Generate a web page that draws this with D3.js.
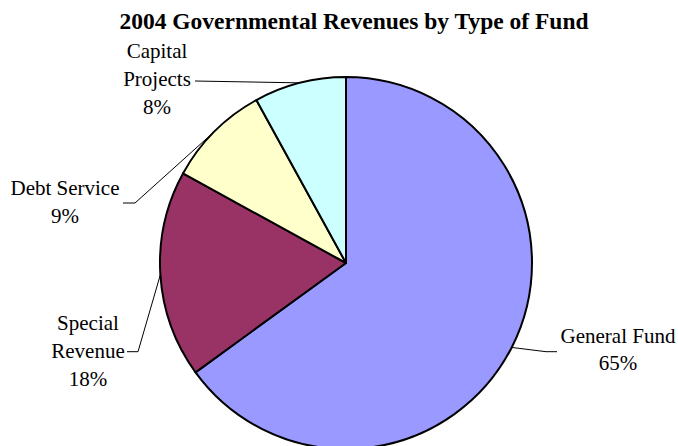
<!DOCTYPE html>
<html>
<head>
<meta charset="utf-8">
<script src="https://cdn.jsdelivr.net/npm/d3@7"></script>
<style>
  html, body { margin: 0; padding: 0; background: #fff; }
  svg { display: block; }
  text { font-family: "Liberation Serif", "Times New Roman", serif; fill: #000; }
</style>
</head>
<body>
<svg id="chart" width="678" height="446"></svg>
<script>
// Fund categories and their share of 2004 governmental revenues (%)
const categories = ["General Fund", "Special Revenue", "Debt Service", "Capital Projects"];
const shares = [65, 18, 9, 8];
const sliceColors = ["#9999FF", "#993366", "#FFFFCC", "#CCFFFF"];
const chartTitle = "2004 Governmental Revenues by Type of Fund";

// Label placement: wrapped name lines, text centre x, first baseline,
// and where the leader line leaves the label block.
const labelLayout = {
  "General Fund":     { lines: ["General Fund"],        x: 618, y: 342.5, lead: [557, 351.7], elbow: [546, 351.7] },
  "Special Revenue":  { lines: ["Special", "Revenue"],  x: 88,  y: 330,   lead: [127, 351.7], elbow: [138, 351.7] },
  "Debt Service":     { lines: ["Debt Service"],        x: 65,  y: 195,   lead: [123, 203],   elbow: [135, 203] },
  "Capital Projects": { lines: ["Capital", "Projects"], x: 157, y: 58,    lead: [195, 81],    elbow: [205, 81.2] }
};

const svg = d3.select("#chart");
const cx = 346, cy = 263, r = 186;
const lineH = 27.8;

svg.append("text")
  .attr("x", 354).attr("y", 28.5)
  .attr("text-anchor", "middle")
  .attr("font-size", "23.5px")
  .attr("font-weight", "bold")
  .text(chartTitle);

const data = categories.map((c, i) => ({ name: c, value: shares[i], color: sliceColors[i] }));

const pie = d3.pie().value(d => d.value).sort(null);
const arcs = pie(data);
const arc = d3.arc().innerRadius(0).outerRadius(r);
const rim = d3.arc().innerRadius(r).outerRadius(r);

const g = svg.append("g").attr("transform", `translate(${cx},${cy})`);

g.selectAll("path.slice")
  .data(arcs)
  .join("path")
  .attr("class", "slice")
  .attr("d", arc)
  .attr("fill", d => d.data.color)
  .attr("stroke", "#000")
  .attr("stroke-width", 2)
  .attr("stroke-linejoin", "round");

// Leader lines from each label to the rim of its slice
const leaders = svg.append("g");
arcs.forEach(d => {
  const L = labelLayout[d.data.name];
  const p = rim.centroid(d);
  const pts = [L.lead, L.elbow, [cx + p[0], cy + p[1]]];
  leaders.append("path")
    .attr("d", d3.line()(pts))
    .attr("fill", "none")
    .attr("stroke", "#000")
    .attr("stroke-width", 1);
});

// Category name and percentage labels
const labels = svg.append("g");
arcs.forEach(d => {
  const L = labelLayout[d.data.name];
  const lines = L.lines.concat([d.data.value + "%"]);
  const t = labels.append("text")
    .attr("text-anchor", "middle")
    .attr("font-size", "21px");
  lines.forEach((s, i) => {
    t.append("tspan")
      .attr("x", L.x)
      .attr("y", L.y + i * lineH)
      .text(s);
  });
});
</script>
</body>
</html>
